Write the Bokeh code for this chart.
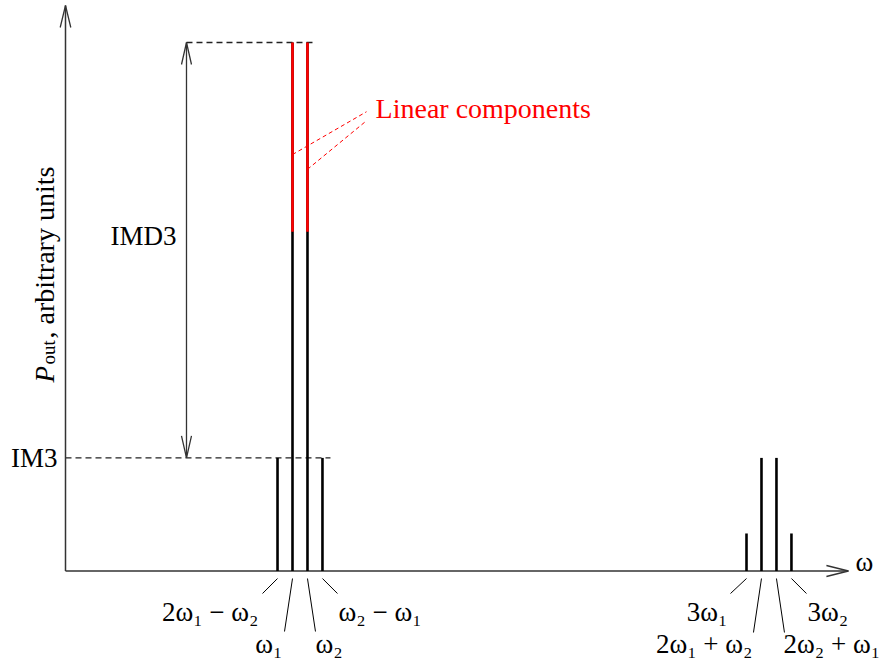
import math
from bokeh.plotting import figure
from bokeh.models import Range1d
from bokeh.core.properties import value
from bokeh.embed import file_html
from bokeh.resources import INLINE

# ---------------- data ----------------
freq_labels = ["2ω₁ − ω₂", "ω₁", "ω₂", "ω₂ − ω₁", "3ω₁", "2ω₁ + ω₂", "2ω₂ + ω₁", "3ω₂"]
freq_values = [0.934, 1.000, 1.066, 1.132, 3.000, 3.066, 3.132, 3.198]
amplitudes = [0.214, 1.000, 1.000, 0.214, 0.071, 0.214, 0.214, 0.071]
linear_index = [1, 2]
linear_black_top = 0.642
im3_level = 0.214
linear_level = 1.000
axis_x_max = 3.449
axis_y_max = 1.070
imd3_arrow_x = 0.533
linear_note = "Linear components"
linear_note_xy = (1.366, 0.859)
linear_leader_from_y = [0.788, 0.760]
linear_leader_to = [(1.326, 0.869), (1.326, 0.852)]

# ---------------- layout ----------------
W, H = 888, 664
X0, Y0 = 65.0, 570.5      # pixel of data origin
SX, SY = 227.0, 528.5     # pixels per data unit


def dx(px):
    return px / SX


def dy(px):
    return px / SY


FONT = value("Liberation Serif")
FS = "27px"
AX_COL = "#333333"
TSHIFT = 9.0              # baseline correction, pixels

p = figure(width=W, height=H, output_backend="svg", toolbar_location=None,
           x_range=Range1d(-X0 / SX, (W - X0) / SX),
           y_range=Range1d(-(H - Y0) / SY, Y0 / SY),
           x_axis_location=None, y_axis_location=None,
           min_border=0, min_border_left=0, min_border_right=0,
           min_border_top=0, min_border_bottom=0)
p.grid.visible = False
p.outline_line_color = None
p.background_fill_color = "white"
p.border_fill_color = "white"

# ---- dashed reference levels ----
p.line([0, freq_values[3] + dx(8)], [im3_level, im3_level],
       line_color="#222222", line_width=1.4, line_dash="6 4")
p.line([imd3_arrow_x, freq_values[2] + dx(8)], [linear_level, linear_level],
       line_color="#222222", line_width=1.4, line_dash="6 4")

# ---- axes with open arrow heads ----
p.line([0, axis_x_max], [0, 0], line_color=AX_COL, line_width=1.5)
p.line([0, 0], [0, axis_y_max], line_color=AX_COL, line_width=1.5)
heads_x = [
    [axis_x_max - dx(22), axis_x_max, axis_x_max - dx(22)],
    [-dx(5.3), 0, dx(5.3)],
    [imd3_arrow_x - dx(5), imd3_arrow_x, imd3_arrow_x + dx(5)],
    [imd3_arrow_x - dx(5), imd3_arrow_x, imd3_arrow_x + dx(5)],
]
heads_y = [
    [dy(5.5), 0, -dy(5.5)],
    [axis_y_max - dy(22), axis_y_max, axis_y_max - dy(22)],
    [linear_level - dy(22), linear_level, linear_level - dy(22)],
    [im3_level + dy(22), im3_level, im3_level + dy(22)],
]
p.multi_line(heads_x, heads_y, line_color=AX_COL, line_width=1.3)
p.line([imd3_arrow_x, imd3_arrow_x], [im3_level, linear_level],
       line_color=AX_COL, line_width=1.3)

# ---- spectral lines ----
p.segment(x0=freq_values, y0=[0] * len(freq_values), x1=freq_values, y1=amplitudes,
          line_color="black", line_width=2.6)
lin_x = [freq_values[i] for i in linear_index]
lin_top = [amplitudes[i] for i in linear_index]
p.segment(x0=lin_x, y0=[linear_black_top] * len(lin_x), x1=lin_x, y1=lin_top,
          line_color="#ff0000", line_width=2.6)

# ---- "Linear components" note ----
p.multi_line([[lin_x[k], linear_leader_to[k][0]] for k in range(2)],
             [[linear_leader_from_y[k], linear_leader_to[k][1]] for k in range(2)],
             line_color="#ff0000", line_width=1.0, line_dash="4 3")
p.text(x=[linear_note_xy[0]], y=[linear_note_xy[1] + dy(TSHIFT)], text=[linear_note],
       text_font=FONT, text_font_size="28px", text_color="#ff0000",
       text_align="left", text_baseline="alphabetic")

# ---- level labels ----
p.text(x=[-dx(8)], y=[im3_level - dy(9) + dy(TSHIFT)], text=["IM3"],
       text_font=FONT, text_font_size=FS, text_color="black",
       text_align="right", text_baseline="alphabetic")
p.text(x=[imd3_arrow_x - dx(10)],
       y=[(im3_level + linear_level) / 2 + dy(5.5) + dy(TSHIFT)],
       text=["IMD3"], text_font=FONT, text_font_size=FS, text_color="black",
       text_align="right", text_baseline="alphabetic")

# ---- frequency labels with leader lines ----
# (leader end dx, leader end below axis, text dx, text baseline below axis, align)
label_layout = [
    (-15, 22.5, -19, 49.5, "right"),
    (-8, 60.5, -10, 81.5, "right"),
    (8, 60.5, 8, 81.5, "left"),
    (15, 22.5, 16, 49.5, "left"),
    (-16, 22.5, -19, 49.5, "right"),
    (-8, 61.5, -9, 81.5, "right"),
    (8, 61.5, 7, 81.5, "left"),
    (15, 22.5, 16, 49.5, "left"),
]
lx, ly = [], []
for f, (ex, ey, tx, tb, al) in zip(freq_values, label_layout):
    lx.append([f, f + dx(ex)])
    ly.append([-dy(7.5), -dy(ey)])
p.multi_line(lx, ly, line_color="black", line_width=1.0)
for f, lab, (ex, ey, tx, tb, al) in zip(freq_values, freq_labels, label_layout):
    p.text(x=[f + dx(tx)], y=[-dy(tb) + dy(TSHIFT)], text=[lab], text_font=FONT,
           text_font_size=FS, text_color="black", text_align=al,
           text_baseline="alphabetic")

# axis symbol
p.text(x=[axis_x_max + dx(7)], y=[dy(TSHIFT)], text=["ω"], text_font=FONT,
       text_font_size=FS, text_color="black", text_align="left",
       text_baseline="alphabetic")

# ---- y axis title: P_out, arbitrary units (rotated) ----
base_x = -dx(12) - dx(TSHIFT)
start = dy(Y0 - 382)
p.text(x=[base_x], y=[start], text=["P"], text_font=FONT, text_font_size=FS,
       text_font_style="italic", angle=math.pi / 2, text_align="left",
       text_baseline="alphabetic", text_color="black")
p.text(x=[base_x + dx(4)], y=[start + dy(18)], text=["out"], text_font=FONT,
       text_font_size="19px", angle=math.pi / 2, text_align="left",
       text_baseline="alphabetic", text_color="black")
p.text(x=[base_x], y=[start + dy(44)], text=[", arbitrary units"], text_font=FONT,
       text_font_size="28px", angle=math.pi / 2, text_align="left",
       text_baseline="alphabetic", text_color="black")

open("out.html", "w").write(file_html(p, INLINE))
